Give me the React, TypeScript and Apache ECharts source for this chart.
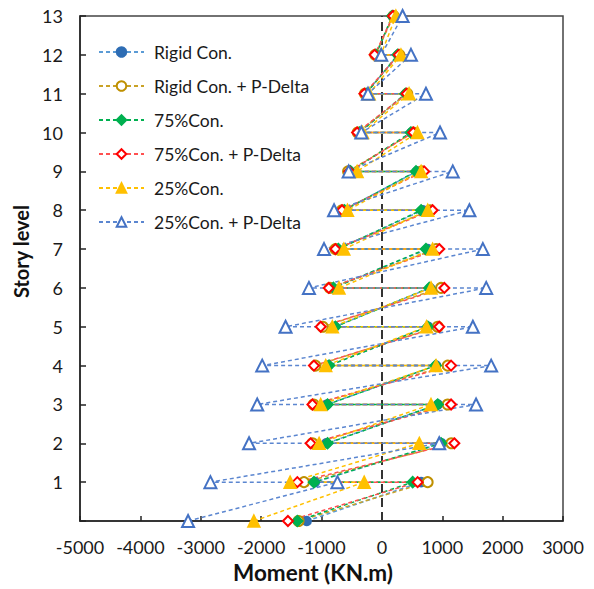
import React, { useEffect, useRef } from 'react';
import * as echarts from 'echarts';

// Story levels 1..12 carry a positive (right) and a negative (left) moment;
// level 0 (base) and level 13 (roof) carry a single value.
const storyLevels = [1, 2, 3, 4, 5, 6, 7, 8, 9, 10, 11, 12];
const xTickMin = -5000;
const xTickMax = 3000;
const xTickStep = 1000;

const rigidBase = -1245;
const rigidPos = [650, 990, 930, 900, 770, 800, 760, 680, 580, 490, 400, 270];
const rigidNeg = [-1110, -920, -910, -890, -780, -820, -740, -640, -530, -380, -270, -100];
const rigidTop = 180;

const rigidPdBase = -1380;
const rigidPdPos = [758, 1150, 1090, 1090, 925, 980, 900, 800, 660, 520, 420, 290];
const rigidPdNeg = [-1290, -1150, -1130, -1100, -980, -860, -770, -660, -560, -400, -280, -110];
const rigidPdTop = 195;

const con75Base = -1400;
const con75Pos = [510, 980, 925, 890, 760, 786, 730, 650, 565, 480, 390, 260];
const con75Neg = [-1125, -900, -900, -875, -770, -800, -720, -620, -520, -370, -260, -100];
const con75Top = 170;

const con75PdBase = -1556;
const con75PdPos = [592, 1200, 1146, 1146, 950, 1035, 950, 840, 700, 520, 410, 280];
const con75PdNeg = [-1400, -1180, -1150, -1125, -1013, -880, -770, -660, -540, -410, -290, -120];
const con75PdTop = 185;

const con25Base = -2120;
const con25Pos = [-293, 620, 814, 897, 740, 814, 840, 760, 650, 590, 450, 316];
const con25Neg = [-1520, -1040, -1013, -930, -820, -710, -630, -570, -410, -320, -210, -17];
const con25Top = 232;

const con25PdBase = -3210;
const con25PdPos = [-736, 950, 1560, 1810, 1507, 1728, 1673, 1450, 1174, 963, 730, 482];
const con25PdNeg = [-2840, -2200, -2065, -1982, -1595, -1208, -958, -792, -550, -340, -230, -10];
const con25PdTop = 343;

const seriesNames = [
  'Rigid Con.',
  'Rigid Con. + P-Delta',
  '75%Con.',
  '75%Con. + P-Delta',
  '25%Con.',
  '25%Con. + P-Delta',
];

function zigzag(base: number, pos: number[], neg: number[], top: number): number[][] {
  const pts: number[][] = [[base, 0]];
  storyLevels.forEach((lvl, i) => {
    pts.push([pos[i], lvl]);
    pts.push([neg[i], lvl]);
  });
  pts.push([top, storyLevels.length + 1]);
  return pts;
}

const FONT = 'Lato, "Open Sans", "DejaVu Sans", sans-serif';
const DASH = [4, 3];

export default function App() {
  const ref = useRef<HTMLDivElement>(null);
  useEffect(() => {
    if (!ref.current) return;
    const chart = echarts.init(ref.current, undefined, { renderer: 'svg' });
    const mk = (
      name: string,
      data: number[][],
      symbol: string,
      symbolSize: number,
      markerColor: string,
      lineColor: string,
      extra: any = {}
    ) => ({
      name,
      type: 'line',
      data,
      symbol,
      symbolSize,
      showAllSymbol: true,
      itemStyle: { color: markerColor, borderColor: markerColor, borderWidth: 1.5 },
      lineStyle: { color: lineColor, width: 1.5, type: DASH },
      emphasis: { disabled: true },
      ...extra,
    });
    chart.setOption({
      animation: false,
      textStyle: { fontFamily: FONT },
      grid: { left: 80, right: 31, top: 16, bottom: 66, show: true, borderColor: '#444', borderWidth: 1.5 },
      legend: {
        orient: 'vertical',
        left: 93,
        top: 37,
        itemWidth: 45,
        itemHeight: 12,
        itemGap: 14,
        data: seriesNames,
        textStyle: { fontSize: 17.5, color: '#1a1a1a', fontFamily: FONT, lineHeight: 20, padding: [0, 0, 0, 5] },
      },
      xAxis: {
        type: 'value',
        min: xTickMin,
        max: xTickMax,
        interval: xTickStep,
        name: 'Moment (KN.m)',
        nameLocation: 'middle',
        nameGap: 40,
        nameTextStyle: { fontSize: 22.5, fontWeight: 'bold', color: '#111', fontFamily: FONT, padding: [0, 17, 0, 0] },
        axisLine: { show: true, onZero: false, lineStyle: { color: '#222', width: 1.5 } },
        axisTick: { show: true, inside: true, length: 5, lineStyle: { color: '#222', width: 1.5 } },
        axisLabel: {
          fontSize: 18,
          color: '#1a1a1a',
          margin: 17,
          fontFamily: FONT,
          formatter: (v: number) => String(v),
        },
        splitLine: { show: false },
      },
      yAxis: {
        type: 'value',
        min: 0,
        max: 13,
        interval: 1,
        name: 'Story level',
        nameLocation: 'middle',
        nameGap: 45,
        nameTextStyle: { fontSize: 20, fontWeight: 'bold', color: '#111', fontFamily: FONT, padding: [0, 0, 0, 34] },
        axisLine: { show: true, onZero: false, lineStyle: { color: '#222', width: 1.5 } },
        axisTick: { show: true, inside: true, length: 6, lineStyle: { color: '#222', width: 1.5 } },
        axisLabel: {
          fontSize: 18,
          color: '#1a1a1a',
          margin: 17,
          fontFamily: FONT,
          formatter: (v: number) => (v === 0 ? '' : String(v)),
        },
        splitLine: { show: false },
      },
      series: [
        mk(seriesNames[0], zigzag(rigidBase, rigidPos, rigidNeg, rigidTop), 'circle', 9, '#2E6DB4', '#5B9BD5', {
          markLine: {
            silent: true,
            symbol: ['none', 'none'],
            label: { show: false },
            lineStyle: { color: '#333', width: 2, type: [9, 5] },
            data: [{ xAxis: 0 }],
            z: 1,
          },
        }),
        mk(seriesNames[1], zigzag(rigidPdBase, rigidPdPos, rigidPdNeg, rigidPdTop), 'emptyCircle', 10, '#BF9000', '#C9A227'),
        mk(seriesNames[2], zigzag(con75Base, con75Pos, con75Neg, con75Top), 'diamond', 11, '#00B050', '#00B050'),
        mk(seriesNames[3], zigzag(con75PdBase, con75PdPos, con75PdNeg, con75PdTop), 'emptyDiamond', 10, '#FF0000', '#FF5050'),
        mk(seriesNames[4], zigzag(con25Base, con25Pos, con25Neg, con25Top), 'triangle', 12, '#FFC000', '#FFC000'),
        mk(seriesNames[5], zigzag(con25PdBase, con25PdPos, con25PdNeg, con25PdTop), 'emptyTriangle', 12, '#4472C4', '#5B86D0'),
      ],
    });
    return () => chart.dispose();
  }, []);
  return <div ref={ref} style={{ width: 594, height: 589, position: 'absolute', left: 0, top: 0 }} />;
}
